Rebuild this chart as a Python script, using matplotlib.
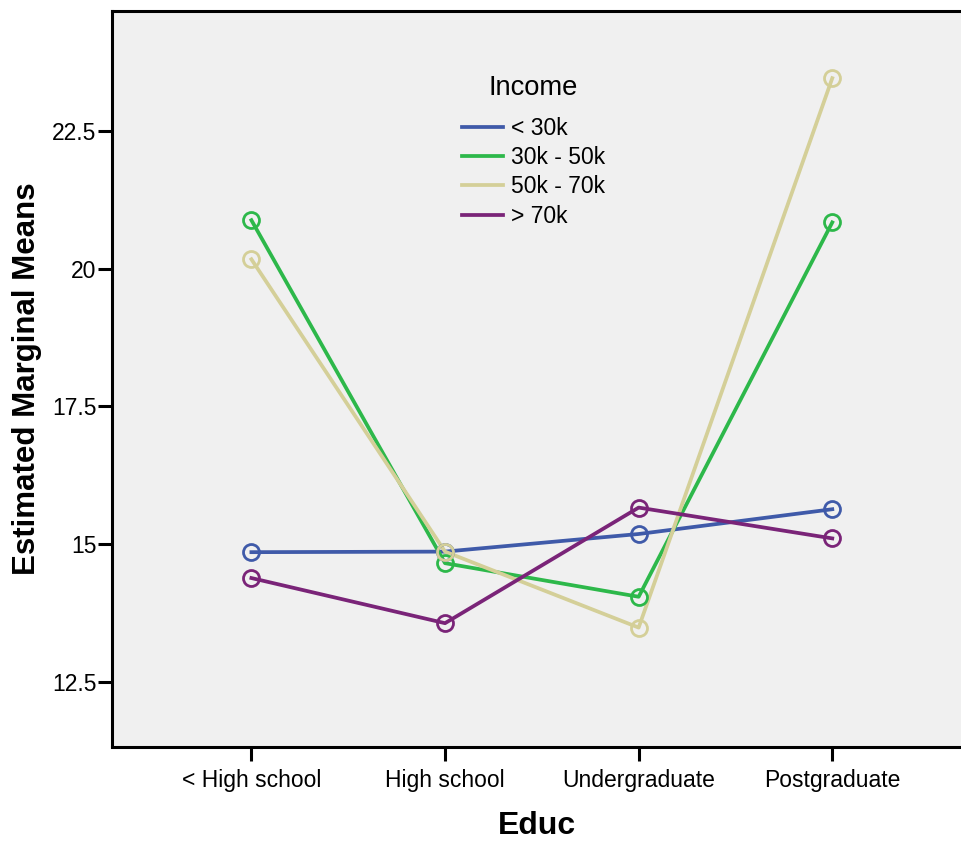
import matplotlib
matplotlib.use("Agg")
import matplotlib.pyplot as plt

plt.rcParams['font.family'] = ['Liberation Sans', 'DejaVu Sans']

# Estimated marginal means by education level, one series per income band
educ = ['< High school', 'High school', 'Undergraduate', 'Postgraduate']
income_labels = ['< 30k', '30k - 50k', '50k - 70k', '> 70k']
under_30k = [14.85, 14.86, 15.18, 15.63]
k30_50 = [20.88, 14.65, 14.04, 20.84]
k50_70 = [20.17, 14.86, 13.48, 23.46]
over_70k = [14.38, 13.56, 15.66, 15.10]
colors = ['#3F5AA9', '#2DB84A', '#D4CF98', '#7A2478']

series = [under_30k, k30_50, k50_70, over_70k]

fig = plt.figure(figsize=(9.62, 8.41), dpi=100)
ax = fig.add_axes([112 / 962, 1 - 746.5 / 841, 1 - 112 / 962, (746.5 - 11) / 841])
ax.set_facecolor('#F0F0F0')

x = list(range(len(educ)))
for vals, lab, col in zip(series, income_labels, colors):
    ax.plot(x, vals, color=col, lw=2.7, label=lab, zorder=2)
    ax.plot(x, vals, ls='none', marker='o', ms=11.5, mfc='none', mec=col, mew=2.0, zorder=3)

ax.set_xlim(-0.72, 3.67)
ax.set_ylim(11.32, 24.68)
ax.set_xticks(x)
ax.set_xticklabels(educ)
ax.set_yticks([12.5, 15, 17.5, 20, 22.5])
ax.set_yticklabels(['12.5', '15', '17.5', '20', '22.5'])

for side in ['left', 'bottom', 'top']:
    ax.spines[side].set_linewidth(2.2)
ax.spines['right'].set_visible(False)
ax.tick_params(axis='both', length=10, width=2.2, labelsize=16.5)
ax.tick_params(axis='x', pad=6)
ax.tick_params(axis='y', pad=1)

ax.set_xlabel('Educ', fontsize=23, fontweight='bold', labelpad=14)
ax.set_ylabel('Estimated Marginal Means', fontsize=22.5, fontweight='bold', labelpad=7)

# legend title drawn separately so the gap above the entries can match
leg = ax.legend(loc='upper left', bbox_to_anchor=(462 / 962, 1 - 117 / 841),
                bbox_transform=fig.transFigure, frameon=False, fontsize=16.5,
                handlelength=1.8, handletextpad=0.33,
                labelspacing=0.27, borderpad=0, borderaxespad=0)
fig.text(533 / 962, 1 - 95 / 841, 'Income', fontsize=19.7, ha='center', va='baseline')

fig.savefig('out.png', dpi=100)
